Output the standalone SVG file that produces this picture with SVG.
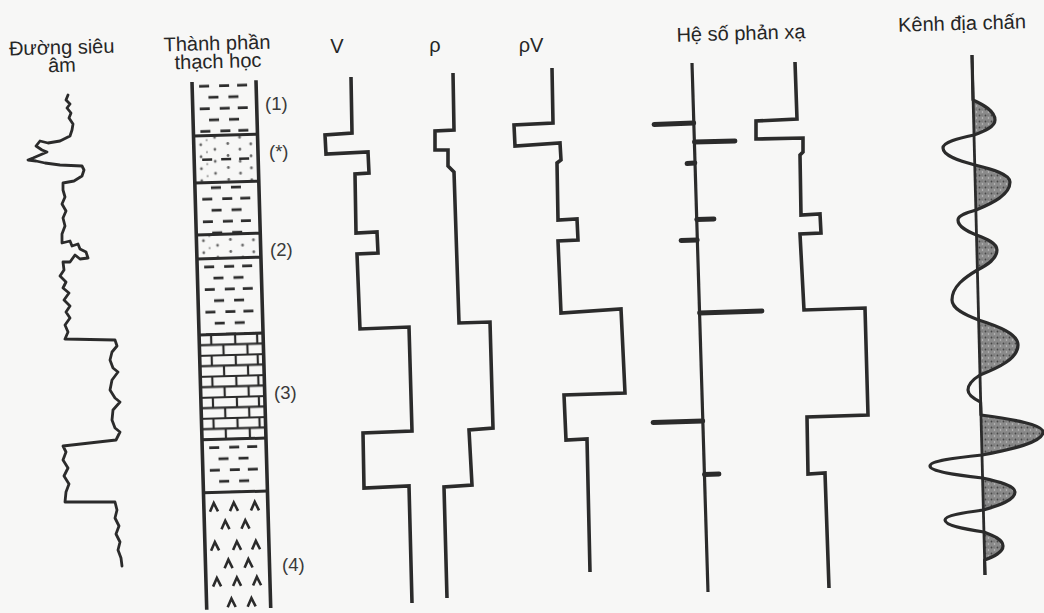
<svg xmlns="http://www.w3.org/2000/svg" width="1044" height="613" viewBox="0 0 1044 613">
  <defs>
    <style>
      .lbl { font-family: "Liberation Sans", Arial, sans-serif; font-size: 20px; fill: #262626; }
      .tag { font-family: "Liberation Sans", Arial, sans-serif; font-size: 18.5px; fill: #3a3a3a; }
      .step { fill: none; stroke: #2b2b2b; stroke-width: 3.6; stroke-linejoin: miter; stroke-linecap: butt; }
      .log { fill: none; stroke: #2b2b2b; stroke-width: 2.8; stroke-linejoin: round; stroke-linecap: round; }
      .spike { stroke: #2b2b2b; stroke-width: 4.8; stroke-linecap: round; }
      .wig { fill: none; stroke: #2b2b2b; stroke-width: 3.2; stroke-linejoin: round; }
      .lobe { fill: url(#stipple); stroke: none; }
      .edge { stroke: #2b2b2b; stroke-width: 3.6; fill: none; }
      .bed { stroke: #2b2b2b; stroke-width: 3; fill: none; }
      .chev { fill: none; stroke: #2b2b2b; stroke-width: 2.6; stroke-linejoin: miter; }
    </style>
    <!-- shale: alternating rows of three and two short dashes -->
    <pattern id="shale" patternUnits="userSpaceOnUse" width="64" height="22.6">
      <path d="M7,4.5H17M27,4.5H37M45,4.5H55M16,15.8H26M36,15.8H46" stroke="#2b2b2b" stroke-width="2.6"/>
    </pattern>
    <!-- sandstone: scattered dots -->
    <pattern id="sand" patternUnits="userSpaceOnUse" width="64" height="12">
      <circle cx="7" cy="3" r="1.4" fill="#666"/>
      <circle cx="21" cy="8" r="1.4" fill="#666"/>
      <circle cx="34" cy="2.5" r="1.4" fill="#666"/>
      <circle cx="46" cy="8.5" r="1.4" fill="#666"/>
      <circle cx="57" cy="3.5" r="1.4" fill="#666"/>
      <circle cx="13" cy="10.5" r="1" fill="#888"/>
    </pattern>
    <!-- limestone: staggered brick courses -->
    <pattern id="brick" patternUnits="userSpaceOnUse" width="64" height="21">
      <path d="M0,0.8H64M0,11.3H64M12,0.8V11.3M36,0.8V11.3M58,0.8V11.3M24,11.3V21.8M48,11.3V21.8" stroke="#2b2b2b" stroke-width="2.2"/>
    </pattern>
    <!-- stippled fill of the positive lobes -->
    <pattern id="stipple" patternUnits="userSpaceOnUse" width="6" height="6">
      <rect width="6" height="6" fill="#8a8a8a"/>
      <circle cx="1.5" cy="1.5" r="0.9" fill="#474747"/>
      <circle cx="4.5" cy="4" r="0.8" fill="#c4c4c4"/>
      <circle cx="4" cy="1" r="0.6" fill="#5a5a5a"/>
    </pattern>
    <path id="vsym" d="M-4,4 L0,-4.5 L4,4" class="chev"/>
  </defs>

  <rect width="1044" height="613" fill="#f7f7f6"/>

  <!-- column headings -->
  <g id="headings">
    <text class="lbl" x="9" y="54" transform="rotate(-1.5 64 48)">Đường siêu</text>
    <text class="lbl" x="62" y="72" text-anchor="middle" transform="rotate(-1.5 62 66)">âm</text>
    <text class="lbl" x="217" y="50" text-anchor="middle" transform="rotate(-1.5 217 44)">Thành phần</text>
    <text class="lbl" x="218" y="68" text-anchor="middle" transform="rotate(-1.5 218 62)">thạch học</text>
    <text class="lbl" x="337" y="53" text-anchor="middle">V</text>
    <text class="lbl" x="435" y="52" text-anchor="middle">ρ</text>
    <text class="lbl" x="531" y="52" text-anchor="middle">ρV</text>
    <text class="lbl" x="741" y="40" text-anchor="middle" transform="rotate(-1.5 741 34)">Hệ số phản xạ</text>
    <text class="lbl" x="962" y="30" text-anchor="middle" transform="rotate(-1.5 962 24)">Kênh địa chấn</text>
  </g>

  <!-- sonic log -->
  <g id="sonic-log">
    <path class="log" d="M68,95 L66,100 L70,104 L67,108 L71,113 L69,118 L73,124 L72,130 L70,136 L60,141 L48,143 L40,141 L36,146 L42,150 L47,152 L40,155 L33,158 L28,160 L36,161 L45,163 L60,165 L82,166 L84,170 L82,176 L74,181 L63,183 L63,190 L65,197 L62,204 L66,211 L63,218 L65,226 L62,234 L62,243 L70,241 L72,246 L78,244 L80,249 L86,252 L88,258 L80,259 L75,255 L70,262 L63,262 L64,270 L60,276 L66,282 L63,288 L69,293 L64,300 L70,306 L66,312 L70,318 L65,325 L68,332 L65,339 L115,340 L117,346 L112,352 L110,360 L113,368 L118,372 L112,380 L110,390 L115,398 L120,402 L113,410 L112,420 L115,428 L120,432 L116,440 L63,446 L66,452 L63,460 L68,468 L64,476 L69,484 L66,492 L65,502 L115,502 L117,510 L115,518 L119,526 L116,534 L120,542 L118,550 L121,558 L122,566"/>
  </g>

  <!-- lithological column -->
  <g id="lithology">
    <g transform="translate(192,82) rotate(-1.6)">
      <rect x="0" y="0" width="64" height="54" fill="url(#shale)"/>
      <rect x="0" y="54" width="64" height="47" fill="url(#sand)"/>
      <path d="M8,78H18M27,78H37M45,78H55" stroke="#2b2b2b" stroke-width="2.6"/>
      <rect x="0" y="101" width="64" height="52" fill="url(#shale)"/>
      <rect x="0" y="153" width="64" height="24" fill="url(#sand)"/>
      <rect x="0" y="177" width="64" height="76" fill="url(#shale)"/>
      <rect x="0" y="253" width="64" height="105" fill="url(#brick)"/>
      <rect x="0" y="358" width="64" height="53" fill="url(#shale)"/>
      <use href="#vsym" x="10" y="426"/><use href="#vsym" x="30" y="426"/><use href="#vsym" x="51" y="426"/>
      <use href="#vsym" x="21" y="444"/><use href="#vsym" x="41" y="444"/>
      <use href="#vsym" x="10" y="465"/><use href="#vsym" x="32" y="465"/><use href="#vsym" x="51" y="465"/>
      <use href="#vsym" x="23" y="483"/><use href="#vsym" x="43" y="483"/>
      <use href="#vsym" x="11" y="501"/><use href="#vsym" x="31" y="501"/><use href="#vsym" x="51" y="501"/>
      <use href="#vsym" x="25" y="522"/><use href="#vsym" x="45" y="522"/>
      <path class="bed" d="M0,54H64M0,101H64M0,153H64M0,177H64M0,253H64M0,358H64M0,411H64"/>
      <path class="edge" d="M0,0V528M64,0V528"/>
    </g>
    <text class="tag" x="265" y="110">(1)</text>
    <text class="tag" x="269" y="158">(*)</text>
    <text class="tag" x="270" y="256">(2)</text>
    <text class="tag" x="274" y="399">(3)</text>
    <text class="tag" x="282" y="571">(4)</text>
  </g>

  <!-- velocity -->
  <g id="curve-v">
    <path class="step" d="M351,77 L352,133 L325,135 L326,154 L368,152 L369,173 L355,174 L356,233 L377,232 L378,253 L357,254 L360,329 L409,327 L412,431 L363,433 L364,488 L409,486 L412,603"/>
  </g>

  <!-- density -->
  <g id="curve-rho">
    <path class="step" d="M453,73 L454,130 L435,131 L435,150 L448,150 L448,166 L454,172 L459,323 L490,322 L493,428 L469,430 L472,485 L444,487 L447,598"/>
  </g>

  <!-- acoustic impedance -->
  <g id="curve-rhov">
    <path class="step" d="M552,68 L553,123 L514,125 L515,146 L560,143 L561,160 L557,163 L558,220 L577,219 L578,240 L558,241 L561,313 L621,309 L625,393 L564,395 L566,440 L587,439 L590,572"/>
  </g>

  <!-- reflection coefficients -->
  <g id="curve-reflection">
    <path d="M692,63 L708,592" stroke="#2b2b2b" stroke-width="3.2" fill="none"/>
    <path class="spike" d="M654,124.5 L693.8,123"/>
    <path class="spike" d="M694.4,142 L735,141"/>
    <path class="spike" d="M687,163.5 L694.9,163"/>
    <path class="spike" d="M696.7,219.5 L714,219"/>
    <path class="spike" d="M681,240.5 L697.3,240"/>
    <path class="spike" d="M699.5,313 L762,311"/>
    <path class="spike" d="M653,422.5 L702.8,421"/>
    <path class="spike" d="M704.4,474.5 L719,474"/>
  </g>

  <!-- impedance in time -->
  <g id="curve-impedance-time">
    <path class="step" d="M795,62 L797,119 L756,121 L756,139 L803,138 L803,152 L800,155 L801,215 L820,214 L821,233 L800,234 L804,310 L865,308 L868,415 L807,417 L808,474 L825,473 L829,588"/>
  </g>

  <!-- seismic trace -->
  <g id="seismic-trace">
    <path class="lobe" d="M973,100 C984,105 995,111 995,120 C995,126.75 984.5,131.25 974,135 Z"/>
    <path class="lobe" d="M975,165 C992.5,169.25 1010,174.35 1010,182 C1010,194.6 993,203 976,210 Z"/>
    <path class="lobe" d="M976.5,235 C986.75,238.75 997,243.25 997,250 C997,259 987.2,265 977.4,270 Z"/>
    <path class="lobe" d="M978.6,320 C998.3,326.25 1018,333.75 1018,345 C1018,358.5 999,367.5 980,375 Z"/>
    <path class="lobe" d="M981,415 C1012,419.25 1043,424.35 1043,432 C1043,442.35 1012.5,449.25 982,455 Z"/>
    <path class="lobe" d="M982.5,478 C998.75,481.5 1015,485.7 1015,492 C1015,500.1 999.2,505.5 983.4,510 Z"/>
    <path class="lobe" d="M983.9,532 C993.45,535.5 1003,539.7 1003,546 C1003,552.3 993.8,556.5 984.6,560 Z"/>
    <path d="M972,55 L985,575" stroke="#2b2b2b" stroke-width="2.8" fill="none"/>
    <path class="wig" d="M972,55 L973,100 C984,105 995,111 995,120 C995,126.75 984.5,131.25 974,135 C958.5,138.25 943,142.15 943,148 C943,155.65 959,160.75 975,165 C992.5,169.25 1010,174.35 1010,182 C1010,194.6 993,203 976,210 C967,212.5 958,215.5 958,220 C958,226.75 967.25,231.25 976.5,235 C986.75,238.75 997,243.25 997,250 C997,259 987.2,265 977.4,270 C964.7,277.5 952,286.5 952,300 C952,309 965.3,315 978.6,320 C998.3,326.25 1018,333.75 1018,345 C1018,358.5 999,367.5 980,375 C974,378.75 968,383.25 968,390 C968,395.4 974.25,399 980.5,402 L981,415 C1012,419.25 1043,424.35 1043,432 C1043,442.35 1012.5,449.25 982,455 C956,457.75 930,461.05 930,466 C930,471.4 956.25,475 982.5,478 C998.75,481.5 1015,485.7 1015,492 C1015,500.1 999.2,505.5 983.4,510 C964.2,512.5 945,515.5 945,520 C945,525.4 964.45,529 983.9,532 C993.45,535.5 1003,539.7 1003,546 C1003,552.3 993.8,556.5 984.6,560 L985,575"/>
  </g>
</svg>
